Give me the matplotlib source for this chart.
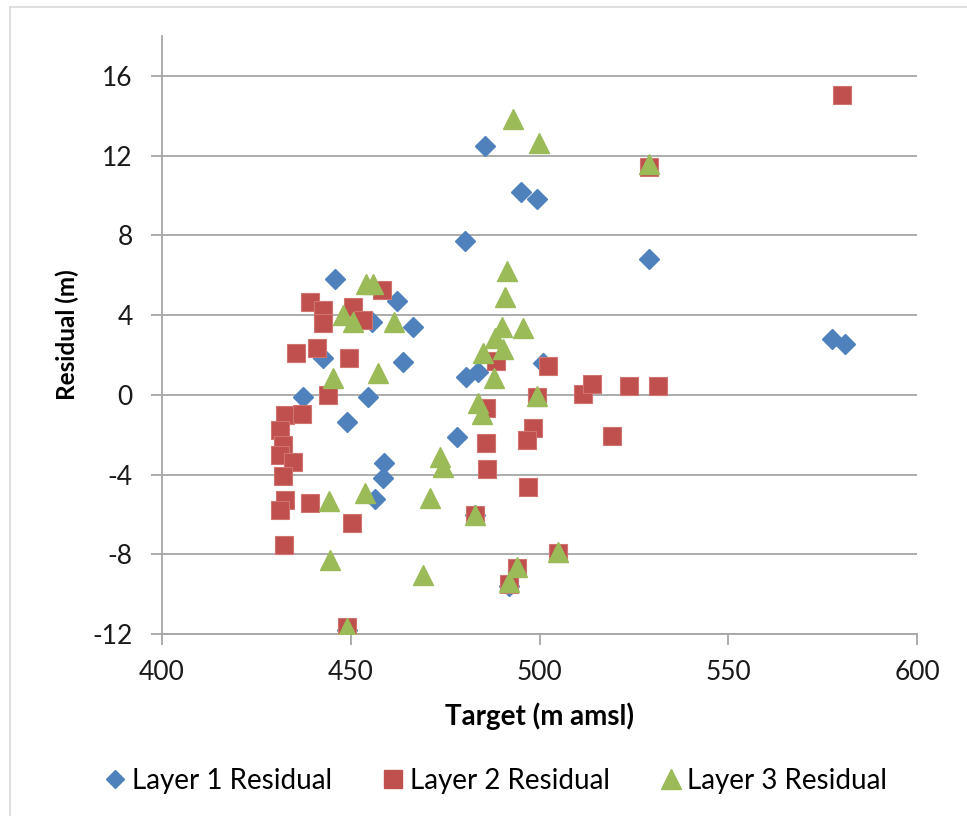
import matplotlib
matplotlib.use("Agg")
import matplotlib.pyplot as plt
from matplotlib.lines import Line2D

plt.rcParams["font.family"] = ["Lato", "DejaVu Sans"]
plt.rcParams["axes.unicode_minus"] = False

# Layer 1 residuals (target m amsl, residual m)
layer1_x = [485.6, 495.1, 499.3, 480.3, 529.0, 445.8, 462.3, 455.6, 466.5, 442.6,
            463.8, 577.5, 580.9, 437.4, 454.6, 449.0, 480.5, 483.7, 500.9, 478.1,
            458.8, 458.5, 456.4, 482.9, 491.9, 449.0]
layer1_y = [12.46, 10.15, 9.80, 7.74, 6.83, 5.83, 4.72, 3.67, 3.42, 1.86,
            1.66, 2.81, 2.56, -0.10, -0.10, -1.36, 0.90, 1.16, 1.61, -2.11,
            -3.42, -4.17, -5.23, -6.03, -9.60, -11.81]

# Layer 2 residuals
layer2_x = [580.1, 529.0, 439.2, 442.6, 442.6, 450.6, 458.3, 453.2, 435.5, 441.1,
            449.5, 444.0, 502.3, 511.5, 513.9, 523.7, 531.4, 488.5, 499.3, 485.8,
            498.3, 496.7, 519.2, 485.8, 486.1, 497.0, 482.9, 504.9, 494.0, 491.9,
            450.3, 449.0, 432.6, 437.1, 431.3, 432.1, 431.3, 434.7, 432.1, 432.6,
            431.3, 439.2, 432.3]
layer2_y = [15.03, 11.41, 4.67, 4.27, 3.62, 4.42, 5.28, 3.77, 2.11, 2.36,
            1.86, 0.00, 1.46, 0.05, 0.55, 0.45, 0.45, 1.71, -0.10, -0.65,
            -1.66, -2.26, -2.06, -2.41, -3.72, -4.62, -6.03, -7.94, -8.69, -9.50,
            -6.43, -11.66, -1.01, -0.95, -1.76, -2.51, -3.02, -3.37, -4.07, -5.28,
            -5.78, -5.43, -7.54]

# Layer 3 residuals
layer3_x = [493.0, 499.9, 529.0, 491.4, 490.9, 454.0, 455.9, 490.1, 495.6, 488.2,
            490.3, 485.0, 487.9, 499.3, 483.7, 484.8, 447.9, 450.6, 461.5, 445.3,
            457.2, 473.6, 474.4, 453.8, 444.2, 471.0, 482.9, 504.9, 494.0, 491.9,
            444.5, 469.1, 449.0]
layer3_y = [13.82, 12.61, 11.56, 6.23, 4.92, 5.58, 5.58, 3.42, 3.37, 2.86,
            2.31, 2.11, 0.85, -0.05, -0.40, -0.95, 4.02, 3.67, 3.67, 0.85,
            1.11, -3.12, -3.62, -4.92, -5.33, -5.18, -6.03, -7.89, -8.64, -9.40,
            -8.29, -9.05, -11.71]

x_ticks = [400, 450, 500, 550, 600]
y_ticks = [-12, -8, -4, 0, 4, 8, 12, 16]

BLUE = "#4F81BD"
RED = "#C0504D"
GREEN = "#9BBB59"
GRID = "#A6A6A6"

fig = plt.figure(figsize=(9.67, 8.16), dpi=100)
ax = fig.add_axes([162 / 967, 1 - 634 / 816, (917 - 162) / 967, (634 - 36) / 816])

ax.plot(layer1_x, layer1_y, ls="none", marker="D", ms=9.8, color=BLUE,
        mec=BLUE, label="Layer 1 Residual", zorder=3)
ax.plot(layer2_x, layer2_y, ls="none", marker="s", ms=13.5, color=RED,
        mec="#D07472", mew=0.8, label="Layer 2 Residual", zorder=4)
ax.plot(layer3_x, layer3_y, ls="none", marker="^", ms=14, color=GREEN,
        mec=GREEN, label="Layer 3 Residual", zorder=5)

ax.set_xlim(400, 600)
ax.set_ylim(-12, 18)
ax.set_xticks(x_ticks)
ax.set_yticks(y_ticks)
ax.yaxis.grid(True, color=GRID, lw=1.3)
ax.set_axisbelow(True)
for s in ["top", "right"]:
    ax.spines[s].set_visible(False)
for s in ["left", "bottom"]:
    ax.spines[s].set_color(GRID)
    ax.spines[s].set_linewidth(1.3)
ax.tick_params(axis="both", direction="out", length=8, width=1.3, color=GRID,
               labelsize=19, labelcolor="#1a1a1a")
ax.tick_params(axis="y", pad=13)
ax.tick_params(axis="x", pad=11)

ax.set_xlabel("Target (m amsl)", fontsize=20, fontweight="bold", labelpad=12)
ax.set_ylabel("Residual (m)", fontsize=17.5, fontweight="bold", labelpad=10)

handles = [
    Line2D([], [], ls="none", marker="D", ms=9, color=BLUE),
    Line2D([], [], ls="none", marker="s", ms=13, color=RED),
    Line2D([], [], ls="none", marker="^", ms=14, color=GREEN),
]
fig.legend(handles, ["Layer 1 Residual", "Layer 2 Residual", "Layer 3 Residual"],
           loc="center", bbox_to_anchor=(0.514, 1 - 781 / 816), ncol=3,
           frameon=False, fontsize=20, handlelength=0.6, handletextpad=0.3,
           columnspacing=1.9)

# chart border (top and left edges visible in the reference)
fig.add_artist(Line2D([10 / 967, 1], [1 - 7 / 816, 1 - 7 / 816], color="#D9D9D9", lw=1.2))
fig.add_artist(Line2D([10 / 967, 10 / 967], [0, 1 - 7 / 816], color="#D9D9D9", lw=1.2))

fig.savefig("out.png", dpi=100)
plt.close(fig)
